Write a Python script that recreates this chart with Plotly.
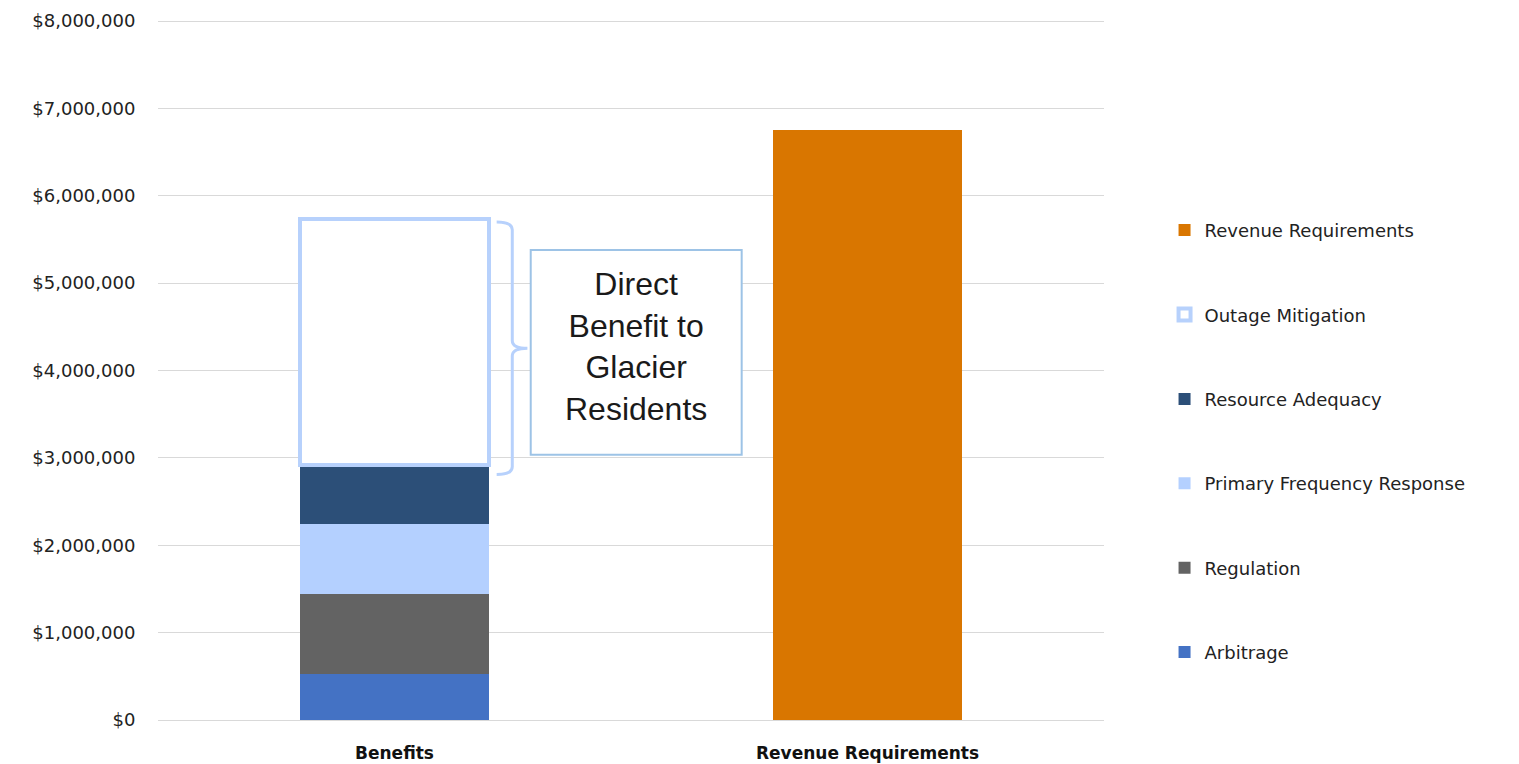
import plotly.graph_objects as go

# Categories on the x axis
categories = ["Benefits", "Revenue Requirements"]

# Benefit components (stacked on the "Benefits" column), in dollars
benefit_names = ["Arbitrage", "Regulation", "Primary Frequency Response",
                 "Resource Adequacy", "Outage Mitigation"]
benefit_values = [527000, 916000, 800000, 677000, 2820000]

# Total revenue requirement, in dollars
revenue_requirement = 6750000

# Y axis ticks
y_ticks = [0, 1000000, 2000000, 3000000, 4000000, 5000000, 6000000, 7000000, 8000000]
y_tick_labels = ["$0", "$1,000,000", "$2,000,000", "$3,000,000", "$4,000,000",
                 "$5,000,000", "$6,000,000", "$7,000,000", "$8,000,000"]

colors = {
    "Arbitrage": "#4472C4",
    "Regulation": "#636363",
    "Primary Frequency Response": "#B4D0FF",
    "Resource Adequacy": "#2C4F78",
    "Outage Mitigation": "#FFFFFF",
    "Revenue Requirements": "#D97600",
}
outline_blue = "#B7D1FC"
box_blue = "#9DC3E6"
font_family = "DejaVu Sans, sans-serif"

fig = go.Figure()
n = len(benefit_names)
for i, (name, val) in enumerate(zip(benefit_names, benefit_values)):
    line = dict(width=0)
    if name == "Outage Mitigation":
        line = dict(color=outline_blue, width=4)
    fig.add_trace(go.Bar(
        x=[categories[0]], y=[val], name=name, legendgroup=name,
        legendrank=n + 1 - i,
        marker=dict(color=colors[name], line=line),
    ))
fig.add_trace(go.Bar(
    x=[categories[1]], y=[revenue_requirement], name="Revenue Requirements",
    legendgroup="Revenue Requirements", legendrank=0,
    marker=dict(color=colors["Revenue Requirements"], line=dict(width=0)),
))

# Brace spanning the outage-mitigation segment
lower = sum(benefit_values[:4])
upper = sum(benefit_values)


def cat_paper(offset, idx=0):
    # category index + offset -> paper fraction for range [-0.5, 1.5]
    return (idx + offset + 0.5) / 2.0


bx0 = cat_paper(0.216)
bx1 = cat_paper(0.249)
bx2 = cat_paper(0.281)
y_top = upper - 40000
y_bot = lower - 110000
y_mid = (y_top + y_bot) / 2
d = 90000
brace = (f"M {bx0},{y_top} Q {bx1},{y_top} {bx1},{y_top - d} "
         f"L {bx1},{y_mid + d} Q {bx1},{y_mid} {bx2},{y_mid} "
         f"Q {bx1},{y_mid} {bx1},{y_mid - d} "
         f"L {bx1},{y_bot + d} Q {bx1},{y_bot} {bx0},{y_bot}")
fig.add_shape(type="path", path=brace, xref="paper", yref="y",
              line=dict(color=outline_blue, width=3))

# Text box
fig.add_shape(type="rect", xref="paper", yref="y",
              x0=cat_paper(0.288), x1=cat_paper(0.734),
              y0=3035000, y1=5380000,
              line=dict(color=box_blue, width=2), fillcolor="white")
fig.add_annotation(x=cat_paper(0.511), y=4270000, xref="paper", yref="y",
                   text="Direct<br>Benefit to<br>Glacier<br>Residents",
                   showarrow=False,
                   font=dict(family="Liberation Sans, Arial, sans-serif",
                             size=32, color="#1a1a1a"))

fig.update_layout(
    width=1519, height=764,
    margin=dict(l=158, r=415, t=20, b=44, autoexpand=False),
    barmode="stack", bargap=0.6,
    plot_bgcolor="white", paper_bgcolor="white",
    font=dict(family=font_family, size=18, color="#222222"),
    showlegend=True,
    legend=dict(traceorder="grouped", tracegroupgap=58,
                x=1.064, xanchor="left", y=0.398, yanchor="middle",
                font=dict(family=font_family, size=18, color="#222222")),
    xaxis=dict(type="category", categoryorder="array", categoryarray=categories,
               range=[-0.5, 1.5], showgrid=False, showline=False,
               automargin=False,
               ticks="outside", ticklen=18, tickcolor="rgba(0,0,0,0)",
               tickfont=dict(family=font_family, size=17, color="#111111"),
               ticktext=["<b>Benefits</b>", "<b>Revenue Requirements</b>"],
               tickvals=categories),
    yaxis=dict(range=[0, 8012000], tickvals=y_ticks, ticktext=y_tick_labels,
               automargin=False,
               showgrid=True, gridcolor="#D9D9D9", gridwidth=1,
               zeroline=True, zerolinecolor="#D9D9D9", zerolinewidth=1,
               showline=False, ticks="outside", ticklen=18,
               tickcolor="rgba(0,0,0,0)",
               tickfont=dict(family=font_family, size=18, color="#222222")),
)

fig.write_html("out.html")
